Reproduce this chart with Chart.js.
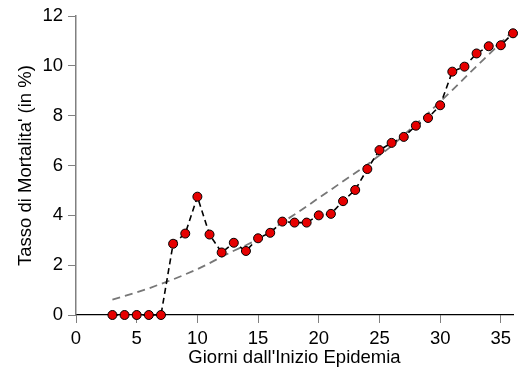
<!DOCTYPE html>
<html lang="it">
<head>
    <meta charset="UTF-8">
    <script src="https://cdn.jsdelivr.net/npm/chart.js@4.4.1/dist/chart.umd.min.js"></script>
    <title>Tasso di Mortalita'</title>
    <style>
        body { margin: 0; background: #fff; }
    </style>
</head>
<body>
    <canvas id="chartMortalita" width="527" height="384"></canvas>
    <script>
        // giorni dall'inizio dell'epidemia
        const giorni = [3, 4, 5, 6, 7, 8, 9, 10, 11, 12, 13, 14, 15, 16, 17, 18, 19, 20,
                        21, 22, 23, 24, 25, 26, 27, 28, 29, 30, 31, 32, 33, 34, 35, 36];
        // tasso di mortalita' osservato (in %)
        const tasso = [0, 0, 0, 0, 0, 2.86, 3.27, 4.75, 3.23, 2.51, 2.90, 2.57, 3.08, 3.30, 3.75, 3.71, 3.71, 4.00,
                       4.06, 4.57, 5.02, 5.86, 6.62, 6.91, 7.15, 7.60, 7.91, 8.42, 9.77, 9.97, 10.50, 10.79, 10.83, 11.31];
        // curva di tendenza
        const tendenza = [0.62, 0.76, 0.91, 1.07, 1.25, 1.43, 1.63, 1.84, 2.08, 2.34, 2.58, 2.80, 3.04, 3.37, 3.72, 4.03, 4.36, 4.70,
                          5.03, 5.37, 5.70, 6.04, 6.41, 6.78, 7.22, 7.66, 8.10, 8.56, 9.03, 9.51, 9.99, 10.46, 10.93, 11.40];
        const xTicks = [0, 5, 10, 15, 20, 25, 30, 35];
        const yTicks = [0, 2, 4, 6, 8, 10, 12];

        const fontFam = "'Liberation Sans', Arial, sans-serif";

        function punti(ys) {
            return giorni.map((g, i) => ({ x: g, y: ys[i] }));
        }

        const ctx = document.getElementById("chartMortalita").getContext("2d");
        new Chart(ctx, {
            type: 'line',
            data: {
                datasets: [{
                    label: 'Tasso',
                    data: punti(tasso),
                    borderColor: '#000000',
                    borderWidth: 1.6,
                    borderDash: [6, 4],
                    pointRadius: 4.5,
                    pointBackgroundColor: '#e60000',
                    pointBorderColor: '#000000',
                    pointBorderWidth: 1,
                    tension: 0,
                    clip: false
                }, {
                    label: 'Tendenza',
                    data: punti(tendenza),
                    borderColor: '#777777',
                    borderWidth: 1.8,
                    borderDash: [8, 5],
                    pointRadius: 0,
                    tension: 0,
                    clip: false
                }]
            },
            options: {
                responsive: false,
                animation: false,
                layout: { padding: { top: 13, right: 14, left: 0, bottom: 0 } },
                plugins: { legend: { display: false }, tooltip: { enabled: false } },
                scales: {
                    x: {
                        type: 'linear',
                        min: 0, max: 36,
                        afterBuildTicks: s => { s.ticks = xTicks.map(v => ({ value: v })); },
                        afterFit: s => { s.height = 69; },
                        grid: { drawOnChartArea: false, drawTicks: true, tickLength: 8, tickColor: '#808080' },
                        border: { display: true, color: '#000000', width: 1.2 },
                        ticks: { color: '#000', padding: 5, maxRotation: 0, font: { family: fontFam, size: 18.5 } },
                        title: { display: true, text: "Giorni dall'Inizio Epidemia", color: '#000',
                                 padding: { top: 0, bottom: 15 }, font: { family: fontFam, size: 18.5, lineHeight: 1.2 } }
                    },
                    y: {
                        min: 0, max: 12,
                        afterBuildTicks: s => { s.ticks = yTicks.map(v => ({ value: v })); },
                        afterFit: s => { s.width = 76; },
                        grid: { drawOnChartArea: false, drawTicks: true, tickLength: 8, tickColor: '#808080' },
                        border: { display: true, color: '#808080', width: 1.5 },
                        ticks: { color: '#000', padding: 5, font: { family: fontFam, size: 18.5 } },
                        title: { display: true, text: "Tasso di Mortalita' (in %)", color: '#000',
                                 padding: { top: 15, bottom: 0 }, font: { family: fontFam, size: 18.5, lineHeight: 1.2 } }
                    }
                }
            }
        });
    </script>
</body>
</html>
